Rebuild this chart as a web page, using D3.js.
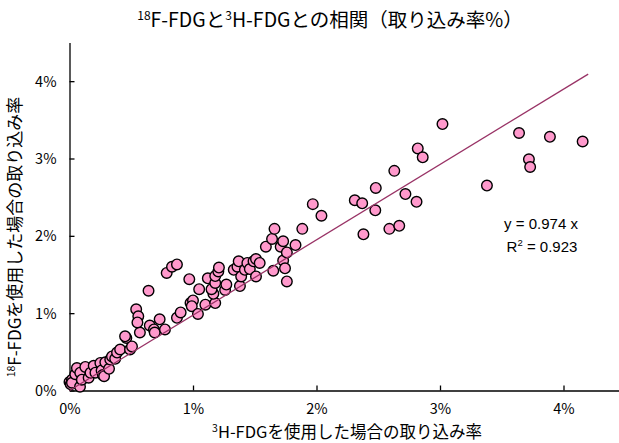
<!DOCTYPE html>
<html>
<head>
<meta charset="utf-8">
<script src="https://cdn.jsdelivr.net/npm/d3@7/dist/d3.min.js"></script>
<style>
  html, body { margin: 0; padding: 0; background: #fff; }
  svg { display: block; }
  .narrow { font-family: "Liberation Sans Narrow", "Noto Sans CJK JP", sans-serif; }
</style>
</head>
<body>
<svg id="chart" width="619" height="443"></svg>
<script>
// Uptake rate (%) measured with 3H-FDG (x) vs 18F-FDG (y)
const h3Uptake = [
  0.00, 0.01, 0.02, 0.02, 0.047, 0.06, 0.087, 0.085, 0.10, 0.128, 0.155, 0.17, 0.196, 0.21,
  0.25, 0.26, 0.27, 0.28, 0.29, 0.32, 0.33, 0.344, 0.37, 0.385, 0.41, 0.46, 0.49, 0.506, 0.45, 0.57,
  0.54, 0.557, 0.55, 0.64, 0.65, 0.684, 0.69, 0.73, 0.773, 0.787, 0.83, 0.87, 0.87, 0.90,
  0.97, 0.98, 1.00, 0.99, 1.04, 1.05, 1.10, 1.12, 1.18, 1.165, 1.15, 1.18, 1.18, 1.205, 1.21,
  1.26, 1.27, 1.33, 1.36, 1.37, 1.38, 1.39, 1.42, 1.44, 1.46, 1.49, 1.51, 1.54, 1.51,
  1.59, 1.64, 1.66, 1.65, 1.71, 1.73, 1.73, 1.745, 1.76, 1.76, 1.83, 1.885, 1.97, 2.04,
  2.31, 2.37, 2.38, 2.476, 2.48, 2.59, 2.63, 2.67, 2.72, 2.81, 2.82, 2.86, 3.02,
  3.38, 3.64, 3.72, 3.73, 3.89, 4.155
];
const f18Uptake = [
  0.11, 0.08, 0.14, 0.10, 0.21, 0.29, 0.23, 0.05, 0.14, 0.305, 0.165, 0.23, 0.32, 0.23,
  0.357, 0.26, 0.20, 0.185, 0.365, 0.28, 0.40, 0.44, 0.41, 0.49, 0.53, 0.68, 0.53, 0.57, 0.70, 0.75,
  1.05, 0.96, 0.88, 1.29, 0.84, 0.79, 0.75, 0.92, 0.79, 1.52, 1.60, 1.63, 0.94, 1.01,
  1.44, 1.13, 1.165, 1.09, 0.99, 1.31, 1.11, 1.45, 1.13, 1.25, 1.31, 1.39, 1.48, 1.54, 1.59,
  1.30, 1.37, 1.56, 1.60, 1.67, 1.35, 1.475, 1.56, 1.65, 1.57, 1.67, 1.70, 1.65, 1.475,
  1.86, 1.96, 2.09, 1.55, 1.86, 1.93, 1.68, 1.58, 1.785, 1.41, 1.88, 2.09, 2.41, 2.26,
  2.46, 2.42, 2.02, 2.33, 2.62, 2.09, 2.84, 2.13, 2.54, 2.44, 3.13, 3.015, 3.445,
  2.65, 3.33, 2.99, 2.89, 3.28, 3.22
];

// Trend line through the origin: y = slope * x
const slope = 0.974;
const rSquared = 0.923;
const trendRange = [0, 4.2];

const xTicks = [0, 1, 2, 3, 4];
const yTicks = [0, 1, 2, 3, 4];
const tickLabel = d => d + "%";

const svg = d3.select("#chart");

const x = d3.scaleLinear().domain([0, 4.5]).range([69.5, 625.25]);
const y = d3.scaleLinear().domain([0, 4.5]).range([390.5, 42.5]);

// Title with superscript mass numbers
const title = svg.append("text")
  .attr("class", "narrow")
  .attr("x", 330).attr("y", 27)
  .attr("text-anchor", "middle")
  .attr("font-size", 19.5)
  .attr("fill", "#000");
title.append("tspan").attr("font-size", 12).attr("dy", -7).text("18");
title.append("tspan").attr("dy", 7).text("F-FDGと");
title.append("tspan").attr("font-size", 12).attr("dy", -7).text("3");
title.append("tspan").attr("dy", 7).text("H-FDGとの相関（取り込み率%）");

// Axes with inward ticks
const xAxis = svg.append("g")
  .attr("transform", `translate(0,${y(0)})`)
  .call(d3.axisBottom(x).tickValues(xTicks).tickSize(-5).tickSizeOuter(0).tickFormat(tickLabel));
const yAxis = svg.append("g")
  .attr("transform", `translate(${x(0)},0)`)
  .call(d3.axisLeft(y).tickValues(yTicks).tickSize(-5).tickSizeOuter(0).tickFormat(tickLabel));

[xAxis, yAxis].forEach(g => {
  g.select(".domain").attr("stroke", "#000").attr("stroke-width", 1.3);
  g.selectAll(".tick line").attr("stroke", "#000").attr("stroke-width", 1.3);
  g.selectAll(".tick text")
    .attr("class", "narrow")
    .attr("font-size", 14.5)
    .attr("fill", "#000");
});
xAxis.selectAll(".tick text").attr("y", 13).attr("dy", "0.71em");
yAxis.selectAll(".tick text").attr("x", -13).attr("dy", "0.35em");

// Axis titles
const xTitle = svg.append("text")
  .attr("class", "narrow")
  .attr("x", 347).attr("y", 438)
  .attr("text-anchor", "middle")
  .attr("font-size", 16.5)
  .attr("fill", "#000");
xTitle.append("tspan").attr("font-size", 10.5).attr("dy", -6).text("3");
xTitle.append("tspan").attr("dy", 6).text("H-FDGを使用した場合の取り込み率");

const yTitle = svg.append("text")
  .attr("class", "narrow")
  .attr("transform", "translate(21,237) rotate(-90)")
  .attr("text-anchor", "middle")
  .attr("font-size", 17)
  .attr("fill", "#000");
yTitle.append("tspan").attr("font-size", 10.5).attr("dy", -6).text("18");
yTitle.append("tspan").attr("dy", 6).text("F-FDGを使用した場合の取り込み率");

// Scatter points
const points = h3Uptake.map((v, i) => ({ x: v, y: f18Uptake[i] }));
svg.append("g")
  .selectAll("circle")
  .data(points)
  .join("circle")
  .attr("cx", d => x(d.x))
  .attr("cy", d => y(d.y))
  .attr("r", 5.3)
  .attr("fill", "#ff99cc")
  .attr("stroke", "#000")
  .attr("stroke-width", 1.4);

// Linear trend line
svg.append("line")
  .attr("x1", x(trendRange[0])).attr("y1", y(slope * trendRange[0]))
  .attr("x2", x(trendRange[1])).attr("y2", y(slope * trendRange[1]))
  .attr("stroke", "#993366")
  .attr("stroke-width", 1.3);

// Regression equation
const eq = svg.append("g")
  .attr("font-family", "'Liberation Sans', Arial, sans-serif")
  .attr("font-size", 15)
  .attr("fill", "#000")
  .attr("text-anchor", "middle");
eq.append("text").attr("x", 541).attr("y", 229).text(`y = ${slope} x`);
const r2 = eq.append("text").attr("x", 542).attr("y", 252);
r2.append("tspan").text("R");
r2.append("tspan").attr("font-size", 9.5).attr("dy", -6).text("2");
r2.append("tspan").attr("dy", 6).text(` = ${rSquared}`);
</script>
</body>
</html>
